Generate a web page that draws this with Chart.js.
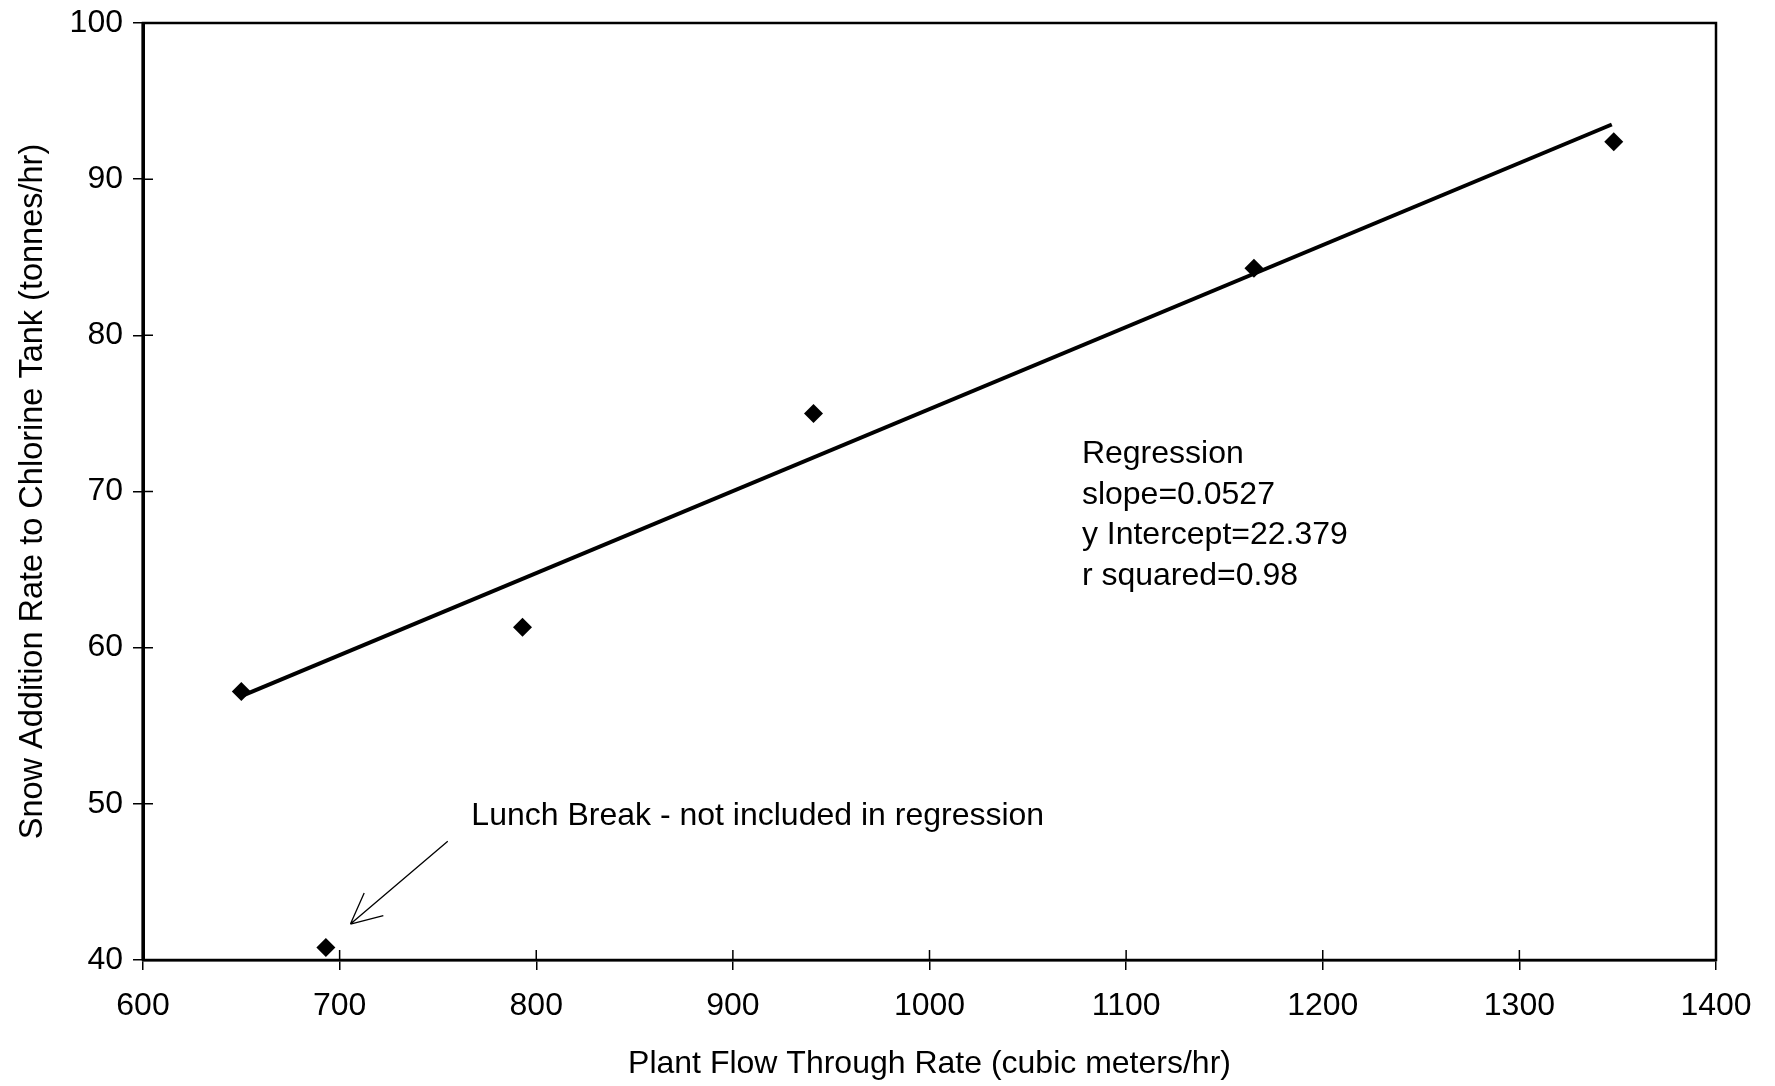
<!DOCTYPE html>
<html>
<head>
<meta charset="utf-8">
<script src="https://cdn.jsdelivr.net/npm/chart.js@4.4.0/dist/chart.umd.min.js"></script>
<style>
  html, body { margin: 0; padding: 0; background: #fff; }
  canvas { display: block; }
</style>
</head>
<body>
<canvas id="chart" width="1775" height="1086"></canvas>
<script>
// measured points (plant flow vs snow addition)
var flowRate = [650, 793, 941, 1165, 1348];
var snowRate = [57.2, 61.3, 75.0, 84.3, 92.4];
// lunch break point, left out of the regression
var lunchFlow = [693];
var lunchSnow = [40.8];
// regression line ends
var regFlow = [650, 1347];
var regSnow = [56.9, 93.5];
// axis ticks
var xTicks = [600, 700, 800, 900, 1000, 1100, 1200, 1300, 1400];
var yTicks = [40, 50, 60, 70, 80, 90, 100];

var regText = ['Regression', 'slope=0.0527', 'y Intercept=22.379', 'r squared=0.98'];
var lunchText = 'Lunch Break - not included in regression';

var fontFamily = '"Liberation Sans", Arial, sans-serif';

function toXY(xs, ys) {
    return xs.map(function (x, i) { return { x: x, y: ys[i] }; });
}

// frame, inward tick marks and the text notes
var extras = {
    id: 'extras',
    afterDraw: function (chart) {
        var ctx = chart.ctx;
        var area = chart.chartArea;
        var xs = chart.scales.x, ys = chart.scales.y;
        ctx.save();
        ctx.strokeStyle = '#000';
        ctx.lineWidth = 2.5;
        ctx.strokeRect(area.left, area.top, area.right - area.left, area.bottom - area.top);
        ctx.lineWidth = 3;
        ctx.beginPath();
        ctx.moveTo(area.left, area.top);
        ctx.lineTo(area.left, area.bottom);
        ctx.stroke();

        ctx.lineWidth = 1.5;
        ctx.beginPath();
        xTicks.forEach(function (v) {
            var px = xs.getPixelForValue(v);
            ctx.moveTo(px, area.bottom);
            ctx.lineTo(px, area.bottom - 10);
        });
        yTicks.forEach(function (v) {
            var py = ys.getPixelForValue(v);
            ctx.moveTo(area.left, py);
            ctx.lineTo(area.left + 10, py);
        });
        ctx.stroke();

        ctx.fillStyle = '#000';
        ctx.font = '32px ' + fontFamily;
        ctx.textBaseline = 'middle';
        ctx.textAlign = 'left';
        var rx = xs.getPixelForValue(1077.5);
        var ry = ys.getPixelForValue(72.4);
        regText.forEach(function (t, i) {
            ctx.fillText(t, rx, ry + i * 40.7);
        });
        ctx.fillText(lunchText, xs.getPixelForValue(767), ys.getPixelForValue(49.2));

        // arrow to the lunch break point
        var ax = xs.getPixelForValue(755), ay = ys.getPixelForValue(47.6);
        var tx = xs.getPixelForValue(705.5), ty = ys.getPixelForValue(42.3);
        ctx.lineWidth = 1.3;
        ctx.beginPath();
        ctx.moveTo(ax, ay);
        ctx.lineTo(tx, ty);
        var ang = Math.atan2(ay - ty, ax - tx);
        var len = 34;
        ctx.moveTo(tx, ty);
        ctx.lineTo(tx + len * Math.cos(ang + 0.45), ty + len * Math.sin(ang + 0.45));
        ctx.moveTo(tx, ty);
        ctx.lineTo(tx + len * Math.cos(ang - 0.45), ty + len * Math.sin(ang - 0.45));
        ctx.stroke();
        ctx.restore();
    }
};

new Chart(document.getElementById('chart'), {
    type: 'scatter',
    data: {
        datasets: [
            {
                label: 'Regression',
                data: toXY(regFlow, regSnow),
                showLine: true,
                borderColor: '#000',
                borderWidth: 4,
                pointRadius: 0,
                fill: false
            },
            {
                label: 'Snow addition',
                data: toXY(flowRate, snowRate),
                pointStyle: 'rectRot',
                pointRadius: 9.5,
                backgroundColor: '#000',
                borderColor: '#000',
                borderWidth: 0
            },
            {
                label: 'Lunch break',
                data: toXY(lunchFlow, lunchSnow),
                pointStyle: 'rectRot',
                pointRadius: 9.5,
                backgroundColor: '#000',
                borderColor: '#000',
                borderWidth: 0,
                clip: false
            }
        ]
    },
    options: {
        responsive: false,
        animation: false,
        layout: { padding: { left: 0, top: 23, right: 59, bottom: 0 } },
        plugins: {
            legend: { display: false },
            tooltip: { enabled: false }
        },
        scales: {
            x: {
                type: 'linear',
                min: 600,
                max: 1400,
                afterFit: function (s) { s.height = 126; },
                afterBuildTicks: function (s) { s.ticks = xTicks.map(function (v) { return { value: v }; }); },
                ticks: {
                    color: '#000',
                    padding: 17,
                    maxRotation: 0,
                    font: { family: fontFamily, size: 32 },
                    callback: function (v) { return String(v); }
                },
                grid: {
                    drawOnChartArea: false,
                    color: '#000',
                    lineWidth: 1.5,
                    tickLength: 10
                },
                border: { color: '#000', width: 2.5 },
                title: {
                    display: true,
                    text: 'Plant Flow Through Rate (cubic meters/hr)',
                    color: '#000',
                    font: { family: fontFamily, size: 32 },
                    padding: 3
                }
            },
            y: {
                type: 'linear',
                min: 40,
                max: 100,
                afterFit: function (s) {
                    s.width = 143;
                    s.paddingTop = 0;
                    s.paddingBottom = 0;
                },
                afterBuildTicks: function (s) { s.ticks = yTicks.map(function (v) { return { value: v }; }); },
                ticks: {
                    color: '#000',
                    padding: 10,
                    font: { family: fontFamily, size: 32 },
                    callback: function (v) { return String(v); }
                },
                grid: {
                    drawOnChartArea: false,
                    color: '#000',
                    lineWidth: 1.5,
                    tickLength: 10
                },
                border: { color: '#000', width: 3 },
                title: {
                    display: true,
                    text: 'Snow Addition Rate to Chlorine Tank (tonnes/hr)',
                    color: '#000',
                    font: { family: fontFamily, size: 32.5 },
                    padding: 14
                }
            }
        }
    },
    plugins: [extras]
});
</script>
</body>
</html>
